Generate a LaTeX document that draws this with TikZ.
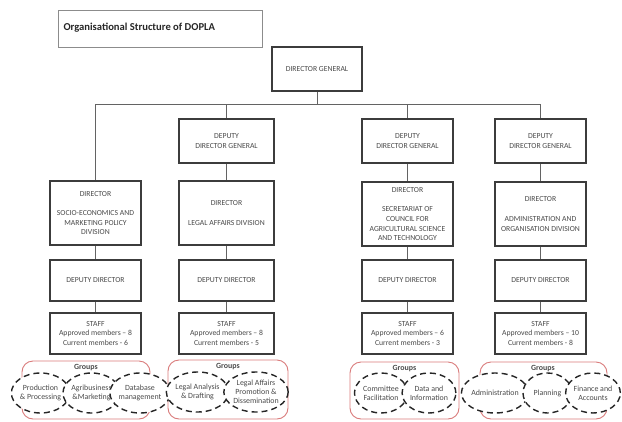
\documentclass[tikz,border=0pt]{standalone}
\usepackage{fontspec}
\setmainfont{Carlito}
\usepackage{xcolor}
\usetikzlibrary{shapes.geometric}
\definecolor{orgline}{HTML}{3C3C3C}
\definecolor{orgtext}{HTML}{4A4A4A}
\definecolor{grpred}{HTML}{D97B7B}

\begin{document}
\begin{tikzpicture}[x=1pt, y=1pt,
    box/.style={rectangle, draw=orgline, line width=1.1pt, fill=white, inner sep=1pt,
                align=center, text=orgtext, font=\fontsize{7.7}{9.7}\selectfont},
    wire/.style={draw=orgline!80, line width=0.6pt},
    grpframe/.style={draw=grpred, line width=0.9pt, rounded corners=11pt},
    grp/.style={ellipse, draw=black!85, fill=white, line width=1.4pt, dash pattern=on 6pt off 4pt,
                inner sep=0pt, minimum height=40pt, align=center, text=orgtext,
                font=\fontsize{7.9}{9}\selectfont},
    grplbl/.style={font=\fontsize{7.9}{9}\selectfont\bfseries, text=orgtext},
  ]
  \useasboundingbox (0,0) rectangle (622,-421);

  % ================= title and director general
  \node[rectangle, draw=black!45, line width=0.6pt, minimum width=204pt, minimum height=37pt,
        inner sep=0pt] (title) at (160,-28.5) {};
  \node[anchor=west, font=\fontsize{10.6}{12}\selectfont\bfseries, text=black!85]
        (titletext) at (60,-28) {Organisational Structure of DOPLA};
  \node[box, minimum width=90pt, minimum height=44pt] (dg) at (317,-69) {DIRECTOR GENERAL};
  \coordinate (bus) at (317,-104);
  \draw[wire] (dg.south) -- (bus);

  % ================= deputy directors general
  \node[box, minimum width=95pt, minimum height=44pt] (ddg1) at (226.5,-141) {DEPUTY\\DIRECTOR GENERAL};
  \node[box, minimum width=91pt, minimum height=44pt] (ddg2) at (407.5,-141) {DEPUTY\\DIRECTOR GENERAL};
  \node[box, minimum width=91pt, minimum height=44pt] (ddg3) at (540.5,-141) {DEPUTY\\DIRECTOR GENERAL};

  % ================= directors
  \node[box, minimum width=91pt, minimum height=64pt] (dir1) at (95.5,-213)
    {DIRECTOR\\[9.7pt]SOCIO-ECONOMICS AND\\MARKETING POLICY\\DIVISION};
  \node[box, minimum width=95pt, minimum height=64pt] (dir2) at (226.5,-213)
    {DIRECTOR\\[9.7pt]LEGAL AFFAIRS DIVISION};
  \node[box, minimum width=91pt, minimum height=64pt] (dir3) at (407.5,-214)
    {DIRECTOR\\[9.7pt]SECRETARIAT OF\\COUNCIL FOR\\AGRICULTURAL SCIENCE\\AND TECHNOLOGY};
  \node[box, minimum width=91pt, minimum height=64pt] (dir4) at (540.5,-214)
    {DIRECTOR\\[9.7pt]ADMINISTRATION AND\\ORGANISATION DIVISION};

  % ================= deputy directors and staff
  \foreach \c/\x/\w in {1/95.5/91, 2/226.5/95, 3/407.5/91, 4/540.5/91} {
    \node[box, minimum width=\w pt, minimum height=41pt] (dd\c) at (\x,-280.5) {DEPUTY DIRECTOR};
  }
  \node[box, minimum width=91pt, minimum height=41pt] (staff1) at (95.5,-333.5)
    {STAFF\\Approved members -- 8\\Current members - 6};
  \node[box, minimum width=95pt, minimum height=41pt] (staff2) at (226.5,-333.5)
    {STAFF\\Approved members -- 8\\Current members - 5};
  \node[box, minimum width=91pt, minimum height=41pt] (staff3) at (407.5,-333.5)
    {STAFF\\Approved members -- 6\\Current members - 3};
  \node[box, minimum width=91pt, minimum height=41pt] (staff4) at (540.5,-333.5)
    {STAFF\\Approved members -- 10\\Current members - 8};

  % connectors
  \draw[wire] (bus) -| (dir1.north);
  \foreach \c in {1,2,3} { \draw[wire] (bus) -| (ddg\c.north); }
  \draw[wire] (ddg1.south) -- (dir2.north);
  \draw[wire] (ddg2.south) -- (dir3.north);
  \draw[wire] (ddg3.south) -- (dir4.north);
  \foreach \c in {1,2,3,4} {
    \draw[wire] (dir\c.south) -- (dd\c.north);
    \draw[wire] (dd\c.south) -- (staff\c.north);
  }

  % ================= groups
  \draw[grpframe] (22,-361) rectangle (150,-419);
  \draw[grpframe] (168,-360) rectangle (288,-419);
  \draw[grpframe] (350,-362) rectangle (459,-419);
  \draw[grpframe] (480,-362) rectangle (607,-419);
  \node[grplbl] (grp1) at (86,-368) {Groups};
  \node[grplbl] (grp2) at (228,-367) {Groups};
  \node[grplbl] (grp3) at (404.5,-369) {Groups};
  \node[grplbl] (grp4) at (543,-369) {Groups};

  \node[grp, minimum width=53pt] (prod) at (40.5,-393) {Production\\\& Processing};
  \node[grp, minimum width=53pt] (agri) at (91.5,-393) {Agribusiness\\\&Marketing};
  \node[grp, minimum width=53pt] (data) at (140,-393) {Database\\management};
  \node[grp, minimum width=60pt] (legal) at (197.5,-392) {Legal Analysis\\\& Drafting};
  \node[grp, minimum width=60pt] (promo) at (256,-392) {Legal Affairs\\Promotion \&\\Dissemination};
  \node[grp, minimum width=53pt] (comm) at (381,-393) {Committee\\Facilitation};
  \node[grp, minimum width=53pt] (info) at (429,-393) {Data and\\Information};
  \node[grp, minimum width=60pt] (admin) at (495,-393) {Administration};
  \node[grp, minimum width=49pt] (plan) at (547.5,-393) {Planning};
  \node[grp, minimum width=49pt] (fin) at (593,-393) {Finance and\\Accounts};
\end{tikzpicture}
\end{document}
